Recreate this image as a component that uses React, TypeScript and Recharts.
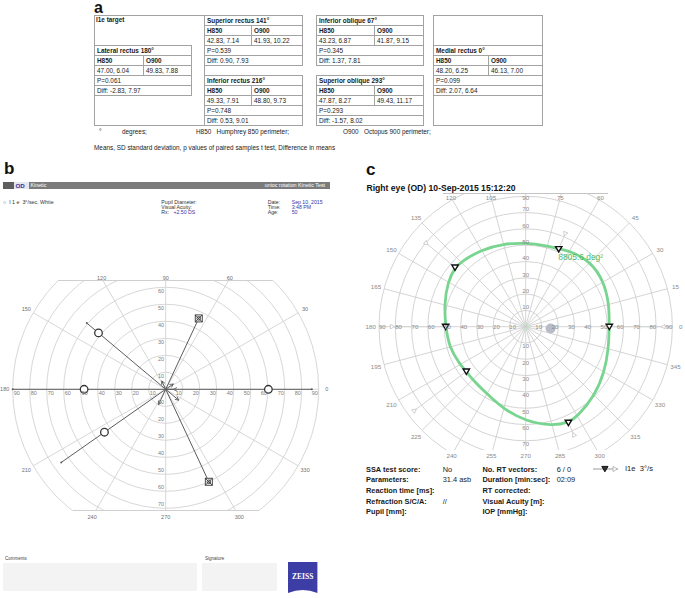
import React from "react";
import {
  RadarChart,
  Radar,
  PolarGrid,
  PolarAngleAxis,
  PolarRadiusAxis,
  Curve,
} from "recharts";

const FONT = "'Liberation Sans', Arial, Helvetica, sans-serif";

// ---------- panel a: table ----------
const BLOCK_TITLES = [
  "Lateral rectus 180°",
  "Superior rectus 141°",
  "Inferior rectus 216°",
  "Inferior oblique 67°",
  "Superior oblique 293°",
  "Medial rectus 0°",
];
const H850_STATS = ["47.00, 6.04", "42.83, 7.14", "49.33, 7.91", "43.23, 6.87", "47.87, 8.27", "48.20, 6.25"];
const O900_STATS = ["49.83, 7.88", "41.93, 10.22", "48.80, 9.73", "41.87, 9.15", "49.43, 11.17", "46.13, 7.00"];
const P_VALUES = ["P=0.061", "P=0.539", "P=0.748", "P=0.345", "P=0.293", "P=0.099"];
const DIFFS = [
  "Diff: -2.83, 7.97",
  "Diff: 0.90, 7.93",
  "Diff: 0.53, 9.01",
  "Diff: 1.37, 7.81",
  "Diff: -1.57, 8.02",
  "Diff: 2.07, 6.64",
];
// layout of each block: left, right, column split, first row
const BLOCK_LAYOUT = [
  [94, 191, 143, 3],
  [204, 302, 251, 0],
  [204, 302, 251, 6],
  [316, 423, 374, 0],
  [316, 423, 374, 6],
  [433, 542, 488, 3],
];

// ---------- panel b: Humphrey kinetic ----------
const RADIUS_TICKS = [0, 10, 20, 30, 40, 50, 60, 70, 80, 90];
const B_ANGLE_TICKS = [0, 30, 60, 90, 120, 150, 180, 210, 240, 270, 300, 330];
const B_ANGLES = [0, 65, 140, 180, 215, 295];
const B_START = [86, 46, 60.6, 90, 75, 60];
const B_TIP = [4.5, -10, -10, 0, -5.5, -5.5];
const B_SEEN = [60.4, null, 51.6, 48, 44, null];
const B_UNSEEN = [null, 46, null, null, null, 60];

// ---------- panel c: Octopus isopter ----------
const C_ANGLE_TICKS = [0, 15, 30, 45, 60, 75, 90, 105, 120, 135, 150, 165, 180, 195, 210, 225, 240, 255, 270, 285, 300, 315, 330, 345];
const C_ISO_ANGLES = [0, 15, 30, 45, 60, 67, 75, 90, 105, 120, 135, 140, 150, 165, 180, 195, 210, 217, 225, 240, 255, 270, 285, 294, 300, 315, 330, 345];
const C_ISO_RADII = [51.3, 53, 55.4, 56.5, 53.8, 51.8, 51.3, 51.5, 52.7, 54.6, 56.2, 56.6, 55.2, 51.8, 49.1, 48.6, 46.5, 45.6, 46, 47.6, 52.3, 58, 63, 64.4, 63.6, 59.9, 55.8, 52.6];
const C_VEC_ANGLES = [0, 67, 140, 180, 217, 294];
const C_VEC_START = [85.5, 63, 80.7, 83, 86.5, 73.6];
const C_VEC_HIT = [51.3, 51.8, 56.6, 49.1, 45.6, 64.4];
const C_BLIND_ANGLE = [356];
const C_BLIND_R = [15.3];

const C_INFO_LABELS = ["SSA test score:", "Parameters:", "Reaction time [ms]:", "Refraction S/C/A:", "Pupil [mm]:"];
const C_INFO_VALUES = ["No", "31.4 asb", "", "//", ""];
const C_INFO_LABELS2 = ["No. RT vectors:", "Duration [min:sec]:", "RT corrected:", "Visual Acuity [m]:", "IOP [mmHg]:"];
const C_INFO_VALUES2 = ["6 / 0", "02:09", "", "", ""];

const bRows = B_ANGLES.map((angle, i) => ({
  angle,
  start: B_START[i],
  tip: B_TIP[i],
  seen: B_SEEN[i],
  unseen: B_UNSEEN[i],
}));

const cRowMap = new Map<number, any>();
const cRow = (a: number) => {
  if (!cRowMap.has(a)) cRowMap.set(a, { angle: a });
  return cRowMap.get(a);
};
C_ISO_ANGLES.forEach((a, i) => (cRow(a).iso = C_ISO_RADII[i]));
C_VEC_ANGLES.forEach((a, i) => {
  cRow(a).start = C_VEC_START[i];
  cRow(a).hit = C_VEC_HIT[i];
});
C_BLIND_ANGLE.forEach((a, i) => (cRow(a).blind = C_BLIND_R[i]));
const cRows = Array.from(cRowMap.values()).sort((p, q) => p.angle - q.angle);

// ---------- helpers ----------
function Txt({ x, y, size = 6, bold = false, color = "#222", anchor = "start", family = FONT, children }: any) {
  const tx = anchor === "middle" ? "-50%" : anchor === "end" ? "-100%" : "0";
  return (
    <div
      style={{
        position: "absolute",
        left: x,
        top: y,
        transform: `translate(${tx}, -50%)`,
        fontSize: size,
        lineHeight: 1,
        fontWeight: bold ? 700 : 400,
        color,
        whiteSpace: "nowrap",
        fontFamily: family,
      }}
    >
      {children}
    </div>
  );
}

// a point that has a value of its own
const ok = (p: any) => p && p.value != null && Number.isFinite(p.x) && Number.isFinite(p.y);

function makeAngleTick(cx: number, cy: number, r: number, top: number, bottom: number, size: number, color: string) {
  return (props: any) => {
    const v = props.payload.value;
    if (v >= 360) return <g />;
    const a = (props.payload.coordinate * Math.PI) / 180;
    const dx = Math.cos(a);
    const dy = -Math.sin(a);
    let t = r;
    if (dy < 0 && cy + dy * t < top) t = (top - cy) / dy;
    if (dy > 0 && cy + dy * t > bottom) t = (bottom - cy) / dy;
    return (
      <text x={cx + dx * t} y={cy + dy * t} textAnchor="middle" dominantBaseline="central" fontSize={size} fill={color} fontFamily={FONT}>
        {v}
      </text>
    );
  };
}

// ---------- panel a ----------
const ROW_TOP = 15;
const ROW_H = 10;

function Cell({ x1, x2, row, text, bold }: any) {
  return (
    <div
      style={{
        position: "absolute",
        left: x1,
        top: ROW_TOP + row * ROW_H,
        width: x2 - x1 + 1,
        height: ROW_H + 1,
        boxSizing: "border-box",
        border: "1px solid #a2a2a2",
        fontSize: 6.4,
        lineHeight: `${ROW_H - 1}px`,
        paddingLeft: 2,
        fontWeight: bold ? 700 : 400,
        whiteSpace: "nowrap",
        overflow: "hidden",
        color: "#1a1a1a",
        fontFamily: FONT,
      }}
    >
      {text}
    </div>
  );
}

function PanelA() {
  return (
    <>
      <Txt x={94} y={8} size={16} bold color="#111">a</Txt>
      <div style={{ position: "absolute", left: 94, top: ROW_TOP, width: 111, height: 111, border: "1px solid #a2a2a2", boxSizing: "border-box" }} />
      <div style={{ position: "absolute", left: 433, top: ROW_TOP, width: 110, height: 111, border: "1px solid #a2a2a2", boxSizing: "border-box" }} />
      <Txt x={96} y={ROW_TOP + 5} size={6.4} bold color="#1a1a1a">I1e target</Txt>
      {BLOCK_TITLES.map((title, i) => {
        const [l, r, s, row] = BLOCK_LAYOUT[i];
        return (
          <React.Fragment key={title}>
            <Cell x1={l} x2={r} row={row} text={title} bold />
            <Cell x1={l} x2={s} row={row + 1} text="H850" bold />
            <Cell x1={s} x2={r} row={row + 1} text="O900" bold />
            <Cell x1={l} x2={s} row={row + 2} text={H850_STATS[i]} />
            <Cell x1={s} x2={r} row={row + 2} text={O900_STATS[i]} />
            <Cell x1={l} x2={r} row={row + 3} text={P_VALUES[i]} />
            <Cell x1={l} x2={r} row={row + 4} text={DIFFS[i]} />
          </React.Fragment>
        );
      })}
      <Txt x={99} y={131.5} size={6.4}>°</Txt>
      <Txt x={122} y={131.7} size={6.4}>degrees;</Txt>
      <Txt x={196} y={131.7} size={6.4}>H850&nbsp;&nbsp;&nbsp;Humphrey 850 perimeter;</Txt>
      <Txt x={343} y={131.7} size={6.4}>O900&nbsp;&nbsp;&nbsp;Octopus 900 perimeter;</Txt>
      <Txt x={94} y={147.5} size={6.4}>Means, SD standard deviation, p values of paired samples t test, Difference in means</Txt>
    </>
  );
}

// ---------- panel b ----------
const B_LEFT = 0;
const B_TOP = 230;
const B_W = 340;
const B_H = 310;
const B_CX = 165.7;
const B_CY = 159.3;
const B_R = 153;
const B_DARK = "#5c5c5c";

const bRadiusTick = (props: any) => {
  const v = props.payload.value;
  const r = props.payload.coordinate;
  if (!v) return <g />;
  const s: any = { fontSize: 5.5, fill: "#7d7d7d", fontFamily: FONT, textAnchor: "middle", dominantBaseline: "central" };
  return (
    <g>
      <text x={B_CX + r - 4} y={B_CY + 3.5} {...s}>{v}</text>
      <text x={B_CX - r + 4} y={B_CY + 3.5} {...s}>{v}</text>
      <text x={B_CX - 4.7} y={B_CY - r + 4} {...s}>{v}</text>
      <text x={B_CX - 4.7} y={B_CY + r - 4} {...s}>{v}</text>
    </g>
  );
};

const bStartShape = (props: any) => (
  <g>
    {props.points.filter(ok).map((p: any, i: number) => (
      <g key={i}>
        <line x1={p.x} y1={p.y} x2={p.cx} y2={p.cy} stroke={B_DARK} strokeWidth={1} />
        <circle cx={p.x} cy={p.y} r={1} fill={B_DARK} />
      </g>
    ))}
  </g>
);

const bTipShape = (props: any) => (
  <g>
    {props.points.filter(ok).map((p: any, i: number) => {
      if (!p.value) return null;
      let ux = p.x - p.cx;
      let uy = p.y - p.cy;
      const len = Math.hypot(ux, uy) || 1;
      ux /= len;
      uy /= len;
      if (p.value > 0) {
        ux = -ux;
        uy = -uy;
      }
      const a = 3.6;
      const w = 1.8;
      const bx = p.x - ux * a;
      const by = p.y - uy * a;
      return (
        <g key={i}>
          <line x1={p.cx} y1={p.cy} x2={p.x} y2={p.y} stroke={B_DARK} strokeWidth={1} />
          <path d={`M${bx - uy * w},${by + ux * w} L${p.x},${p.y} L${bx + uy * w},${by - ux * w}`} fill="none" stroke={B_DARK} strokeWidth={0.9} />
        </g>
      );
    })}
  </g>
);

const bSeenShape = (props: any) => (
  <g>
    {props.points.filter(ok).map((p: any, i: number) => (
      <circle key={i} cx={p.x} cy={p.y} r={3.8} fill="#fff" stroke="#333" strokeWidth={1.3} />
    ))}
  </g>
);

const bUnseenShape = (props: any) => (
  <g>
    {props.points.filter(ok).map((p: any, i: number) => (
      <g key={i} stroke="#333" strokeWidth={0.9} fill="none">
        <rect x={p.x - 3.5} y={p.y - 3.5} width={7} height={7} fill="#fff" />
        <line x1={p.x - 3.5} y1={p.y - 3.5} x2={p.x + 3.5} y2={p.y + 3.5} />
        <line x1={p.x + 3.5} y1={p.y - 3.5} x2={p.x - 3.5} y2={p.y + 3.5} />
        <circle cx={p.x} cy={p.y} r={1.8} />
      </g>
    ))}
  </g>
);

const nothing = () => <g />;

function PanelB() {
  const clipTop = 50.7;
  const clipBottom = 29.3;
  return (
    <>
      <Txt x={4} y={168} size={17} bold color="#111">b</Txt>
      {/* header bar */}
      <div style={{ position: "absolute", left: 3, top: 181.7, width: 10.5, height: 7.5, background: "#5e5e5e" }} />
      <div style={{ position: "absolute", left: 13.5, top: 181.7, width: 15, height: 7.5, background: "#e6e6ee" }} />
      <Txt x={15.5} y={185.6} size={6.2} bold color="#34349a">OD</Txt>
      <div style={{ position: "absolute", left: 28.5, top: 181.7, width: 301.5, height: 7.5, background: "#7b7b7b" }} />
      <Txt x={30.5} y={185.5} size={5.3} color="#fff">Kinetic</Txt>
      <Txt x={325} y={185.5} size={5.3} color="#fff" anchor="end">unioc rotation Kinetic Test</Txt>
      <Txt x={3} y={202.7} size={5.3} color="#333">○&nbsp;&nbsp;I 1 e&nbsp;&nbsp;3°/sec. White</Txt>
      <Txt x={161.3} y={202.7} size={5.2} color="#333">Pupil Diameter:</Txt>
      <Txt x={161.3} y={207.7} size={5.2} color="#333">Visual Acuity:</Txt>
      <Txt x={161.3} y={212.6} size={5.2} color="#333">Rx:</Txt>
      <Txt x={173.5} y={212.6} size={5.2} color="#3535a8">+2.50 DS</Txt>
      <Txt x={267.7} y={202.7} size={5.2} color="#333">Date:</Txt>
      <Txt x={267.7} y={207.7} size={5.2} color="#333">Time:</Txt>
      <Txt x={267.7} y={212.6} size={5.2} color="#333">Age:</Txt>
      <Txt x={291.7} y={202.7} size={5.2} color="#3535a8">Sep 10, 2015</Txt>
      <Txt x={291.7} y={207.7} size={5.2} color="#3535a8">3:48 PM</Txt>
      <Txt x={291.7} y={212.6} size={5.2} color="#3535a8">50</Txt>

      {/* plot (grid clipped to band) */}
      <div
        style={{
          position: "absolute",
          left: B_LEFT,
          top: B_TOP,
          width: B_W,
          height: B_H,
          clipPath: `inset(${clipTop}px 0px ${clipBottom}px 0px)`,
        }}
      >
        <RadarChart
          width={B_W}
          height={B_H}
          data={bRows}
          cx={B_CX}
          cy={B_CY}
          innerRadius={0}
          outerRadius={B_R}
          startAngle={0}
          endAngle={360}
          margin={{ top: 0, right: 0, bottom: 0, left: 0 }}
        >
          <PolarGrid gridType="circle" stroke="#d3d3d3" strokeWidth={0.9} />
          <PolarAngleAxis dataKey="angle" type="number" domain={[0, 360]} ticks={B_ANGLE_TICKS} tickCount={13} tick={false} tickLine={false} axisLine={false} />
          <PolarRadiusAxis type="number" domain={[0, 90]} ticks={RADIUS_TICKS} tickCount={10} allowDataOverflow axisLine={false} tick={bRadiusTick} />
          <Radar dataKey="start" isAnimationActive={false} shape={bStartShape} legendType="none" />
          <Radar dataKey="tip" isAnimationActive={false} shape={bTipShape} legendType="none" />
          <Radar dataKey="seen" isAnimationActive={false} shape={bSeenShape} legendType="none" />
          <Radar dataKey="unseen" isAnimationActive={false} shape={bUnseenShape} legendType="none" />
        </RadarChart>
      </div>
      {/* band edges */}
      <div style={{ position: "absolute", left: 57.9, top: 280.4, width: 215.6, height: 1, background: "#cfcfcf" }} />
      <div style={{ position: "absolute", left: 72.6, top: 510.4, width: 186.2, height: 1, background: "#cfcfcf" }} />
      {/* angle labels (unclipped) */}
      <div style={{ position: "absolute", left: B_LEFT, top: B_TOP, width: B_W, height: B_H }}>
        <RadarChart
          width={B_W}
          height={B_H}
          data={bRows}
          cx={B_CX}
          cy={B_CY}
          innerRadius={0}
          outerRadius={B_R}
          startAngle={0}
          endAngle={360}
          margin={{ top: 0, right: 0, bottom: 0, left: 0 }}
        >
          <PolarAngleAxis
            dataKey="angle"
            type="number"
            domain={[0, 360]}
            ticks={B_ANGLE_TICKS}
            tickCount={13}
            tickLine={false}
            axisLine={false}
            tick={makeAngleTick(B_CX, B_CY, 161, 48.3, 286.7, 5.5, "#707070")}
          />
          <PolarRadiusAxis type="number" domain={[0, 90]} allowDataOverflow tick={false} axisLine={false} />
          <Radar dataKey="start" isAnimationActive={false} shape={nothing} legendType="none" />
        </RadarChart>
      </div>

      {/* footer */}
      <Txt x={5} y={559.3} size={4.5} color="#444">Comments</Txt>
      <div style={{ position: "absolute", left: 3, top: 562.7, width: 194, height: 28, background: "#f3f3f3" }} />
      <Txt x={205} y={559.3} size={4.5} color="#444">Signature</Txt>
      <div style={{ position: "absolute", left: 202.3, top: 562.7, width: 74.4, height: 28, background: "#f3f3f3" }} />
      <svg style={{ position: "absolute", left: 288.3, top: 561.7 }} width={30} height={31}>
        <path d="M0,0 H29.4 V31 Q14.7,25 0,31 Z" fill="#3d3da6" />
        <text x={14.7} y={17} textAnchor="middle" fontSize={7.5} fontWeight={700} fill="#fff" fontFamily="'Liberation Serif', serif">ZEISS</text>
      </svg>
    </>
  );
}

// ---------- panel c ----------
const C_LEFT = 360;
const C_TOP = 180;
const C_W = 325;
const C_H = 290;
const C_CX = 165.7;
const C_CY = 146.7;
const C_R = 146.7;
const C_CLIP_TOP = 13.5;
const C_CLIP_BOTTOM = 270;

const cRadiusTick = (props: any) => {
  const v = props.payload.value;
  const r = props.payload.coordinate;
  if (!v) return <g />;
  const s: any = { fontSize: 6, fill: "#8a8a8a", fontFamily: FONT, textAnchor: "middle", dominantBaseline: "central" };
  const up = C_CY - r - 3.3;
  const down = C_CY + r + 3.3;
  return (
    <g>
      <text x={C_CX + r - 3.3} y={C_CY} {...s}>{v}</text>
      <text x={C_CX - r + 3.3} y={C_CY} {...s}>{v}</text>
      {up - 4 > C_CLIP_TOP && <text x={C_CX} y={up} {...s}>{v}</text>}
      {down + 4 < C_CLIP_BOTTOM && <text x={C_CX} y={down} {...s}>{v}</text>}
    </g>
  );
};

const cIsoShape = (props: any) => {
  const pts = props.points.filter(ok);
  const c = props.points[0];
  return (
    <g>
      <Curve type="basisClosed" points={pts} stroke="#78d58f" strokeWidth={2.8} fill="none" />
      {c && <circle cx={c.cx} cy={c.cy} r={2.6} fill="none" stroke="#bfe8c8" strokeWidth={1} />}
    </g>
  );
};

const cVecShape = (props: any) => {
  const base = props.baseLinePoints || [];
  return (
    <g>
      {props.points.map((p: any, i: number) => {
        if (!ok(p)) return null;
        const b = base[i];
        let ux = p.cx - p.x;
        let uy = p.cy - p.y;
        const len = Math.hypot(ux, uy) || 1;
        ux /= len;
        uy /= len;
        const a = 4;
        const w = 2.3;
        return (
          <g key={i}>
            {b && Number.isFinite(b.x) && <line x1={p.x} y1={p.y} x2={b.x} y2={b.y} stroke="#d4d4d4" strokeWidth={1} />}
            <path
              d={`M${p.x + ux * a},${p.y + uy * a} L${p.x - uy * w},${p.y + ux * w} L${p.x + uy * w},${p.y - ux * w} Z`}
              fill="#fff"
              stroke="#c4c4c4"
              strokeWidth={0.8}
            />
          </g>
        );
      })}
    </g>
  );
};

const cHitShape = (props: any) => (
  <g>
    {props.points.filter(ok).map((p: any, i: number) => (
      <path
        key={i}
        d={`M${p.x - 3.2},${p.y - 2.4} L${p.x + 3.2},${p.y - 2.4} L${p.x},${p.y + 3} Z`}
        fill="#fff"
        stroke="#111"
        strokeWidth={1.4}
      />
    ))}
  </g>
);

const cBlindShape = (props: any) => (
  <g>
    {props.points.filter(ok).map((p: any, i: number) => (
      <circle key={i} cx={p.x} cy={p.y} r={5} fill="#b8bcc9" />
    ))}
  </g>
);

function PanelC() {
  const rows = [470, 480.3, 491, 502, 512.3];
  return (
    <>
      <Txt x={366} y={169} size={17} bold color="#111">c</Txt>
      <Txt x={366.5} y={188.3} size={8.6} bold color="#111">Right eye (OD) 10-Sep-2015 15:12:20</Txt>
      <div
        style={{
          position: "absolute",
          left: C_LEFT,
          top: C_TOP,
          width: C_W,
          height: C_H,
          clipPath: `inset(${C_CLIP_TOP}px 0px ${C_H - C_CLIP_BOTTOM}px 0px)`,
        }}
      >
        <RadarChart
          width={C_W}
          height={C_H}
          data={cRows}
          cx={C_CX}
          cy={C_CY}
          innerRadius={0}
          outerRadius={C_R}
          startAngle={0}
          endAngle={360}
          margin={{ top: 0, right: 0, bottom: 0, left: 0 }}
        >
          <PolarGrid gridType="circle" stroke="#cfcfcf" strokeWidth={0.9} />
          <PolarAngleAxis dataKey="angle" type="number" domain={[0, 360]} ticks={C_ANGLE_TICKS} tickCount={25} tick={false} tickLine={false} axisLine={false} />
          <PolarRadiusAxis type="number" domain={[0, 90]} ticks={RADIUS_TICKS} tickCount={10} allowDataOverflow axisLine={false} tick={cRadiusTick} />
          <Radar
            dataKey={(d: any) => (d.start == null ? null : [d.hit, d.start])}
            isAnimationActive={false}
            shape={cVecShape}
            legendType="none"
          />
          <Radar dataKey="blind" isAnimationActive={false} shape={cBlindShape} legendType="none" />
          <Radar dataKey="iso" isAnimationActive={false} shape={cIsoShape} legendType="none" />
          <Radar dataKey="hit" isAnimationActive={false} shape={cHitShape} legendType="none" />
        </RadarChart>
      </div>
      <div style={{ position: "absolute", left: 443, top: 193.2, width: 165, height: 1, background: "#c4c4c4" }} />
      <div style={{ position: "absolute", left: C_LEFT, top: C_TOP, width: C_W, height: C_H }}>
        <RadarChart
          width={C_W}
          height={C_H}
          data={cRows}
          cx={C_CX}
          cy={C_CY}
          innerRadius={0}
          outerRadius={C_R}
          startAngle={0}
          endAngle={360}
          margin={{ top: 0, right: 0, bottom: 0, left: 0 }}
        >
          <PolarAngleAxis
            dataKey="angle"
            type="number"
            domain={[0, 360]}
            ticks={C_ANGLE_TICKS}
            tickCount={25}
            tickLine={false}
            axisLine={false}
            tick={makeAngleTick(C_CX, C_CY, 155, 17.3, 275, 6.2, "#8a8a8a")}
          />
          <PolarRadiusAxis type="number" domain={[0, 90]} allowDataOverflow tick={false} axisLine={false} />
          <Radar dataKey="iso" isAnimationActive={false} shape={nothing} legendType="none" />
        </RadarChart>
      </div>
      <Txt x={558.3} y={256.5} size={8.4} color="#4fb862">8805.6 deg²</Txt>

      {rows.map((y, i) => (
        <React.Fragment key={y}>
          <Txt x={366} y={y} size={7.4} bold color="#1a1a1a">{C_INFO_LABELS[i]}</Txt>
          <Txt x={442.7} y={y} size={7.4} color="#1a1a1a">{C_INFO_VALUES[i]}</Txt>
          <Txt x={482.5} y={y} size={7.4} bold color="#1a1a1a">{C_INFO_LABELS2[i]}</Txt>
          <Txt x={556.7} y={y} size={7.4} color="#1a1a1a">{C_INFO_VALUES2[i]}</Txt>
        </React.Fragment>
      ))}
      <svg style={{ position: "absolute", left: 592, top: 464 }} width={30} height={10}>
        <line x1={1} y1={5} x2={26} y2={5} stroke="#9a9a9a" strokeWidth={1} />
        <path d="M9.8,2.4 L16,2.4 L12.9,7.8 Z" fill="#333" stroke="#111" strokeWidth={1} />
        <path d="M21,2.5 L25.5,5 L21,7.5 Z" fill="#fff" stroke="#aaa" strokeWidth={0.8} />
      </svg>
      <Txt x={625} y={469.3} size={7.6} color="#1a1a1a">I1e&nbsp;&nbsp;3°/s</Txt>
    </>
  );
}

export default function App() {
  return (
    <div
      style={{
        position: "absolute",
        left: 0,
        top: 0,
        width: 685,
        height: 598,
        background: "#fff",
        fontFamily: FONT,
        overflow: "hidden",
      }}
    >
      <PanelA />
      <PanelB />
      <PanelC />
    </div>
  );
}
